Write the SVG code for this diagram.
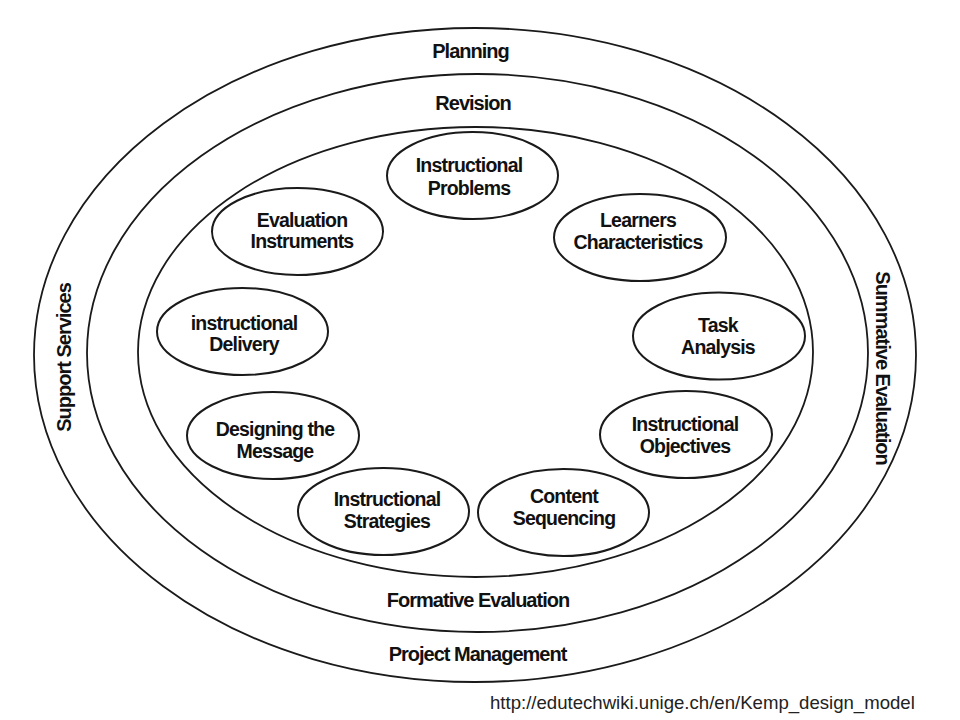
<svg xmlns="http://www.w3.org/2000/svg" width="960" height="720" viewBox="0 0 960 720">
<style>
.ring{fill:none;stroke:#1a1a1a;stroke-width:1.8}
.node ellipse{fill:none;stroke:#1a1a1a;stroke-width:2}
.nt{font-family:"Liberation Sans",Arial,sans-serif;font-weight:bold;font-size:19.5px;letter-spacing:-0.8px;text-anchor:middle;fill:#111}
.rt{font-family:"Liberation Sans",Arial,sans-serif;font-weight:bold;font-size:20px;letter-spacing:-1px;text-anchor:middle;fill:#111}
.url{font-family:"Liberation Sans",Arial,sans-serif;font-size:18.6px;fill:#222}
</style>
<rect width="960" height="720" fill="#fff"/>
<g id="rings">
  <g id="ring-outer">
    <ellipse class="ring" cx="475" cy="355" rx="441" ry="327"/>
    <text class="rt" x="470.5" y="58">Planning</text>
    <text class="rt" x="477.5" y="661">Project Management</text>
    <text class="rt" x="71" y="357.5" transform="rotate(-90 71 357.5)">Support Services</text>
    <text class="rt" x="876" y="368" transform="rotate(90 876 368)">Summative Evaluation</text>
  </g>
  <g id="ring-middle">
    <ellipse class="ring" cx="477.5" cy="353" rx="390.5" ry="279"/>
    <text class="rt" x="473" y="110">Revision</text>
    <text class="rt" x="478" y="607">Formative Evaluation</text>
  </g>
  <g id="ring-inner">
    <ellipse class="ring" cx="475.5" cy="352" rx="337.5" ry="225"/>
  </g>
</g>
<g id="connectors"/>
<g id="n-problems" class="node">
  <ellipse cx="472.5" cy="175.5" rx="85.5" ry="43.5"/>
  <text class="nt" x="469" y="172">Instructional</text>
  <text class="nt" x="469" y="195">Problems</text>
</g>
<g id="n-learners" class="node">
  <ellipse cx="640" cy="237.5" rx="86" ry="43.5"/>
  <text class="nt" x="638" y="227">Learners</text>
  <text class="nt" x="638" y="249">Characteristics</text>
</g>
<g id="n-task" class="node">
  <ellipse cx="719" cy="336" rx="86" ry="43.5"/>
  <text class="nt" x="718" y="332">Task</text>
  <text class="nt" x="718" y="354">Analysis</text>
</g>
<g id="n-objectives" class="node">
  <ellipse cx="686" cy="434.5" rx="86" ry="43.5"/>
  <text class="nt" x="685" y="431">Instructional</text>
  <text class="nt" x="685" y="453">Objectives</text>
</g>
<g id="n-content" class="node">
  <ellipse cx="563.5" cy="512.5" rx="85.5" ry="43.5"/>
  <text class="nt" x="564" y="503">Content</text>
  <text class="nt" x="564" y="525">Sequencing</text>
</g>
<g id="n-strategies" class="node">
  <ellipse cx="383.5" cy="511.5" rx="85.5" ry="43.5"/>
  <text class="nt" x="387" y="506">Instructional</text>
  <text class="nt" x="387" y="528">Strategies</text>
</g>
<g id="n-message" class="node">
  <ellipse cx="273" cy="435.5" rx="86" ry="43.5"/>
  <text class="nt" x="275" y="436">Designing the</text>
  <text class="nt" x="275" y="458">Message</text>
</g>
<g id="n-delivery" class="node">
  <ellipse cx="242.5" cy="331.5" rx="85.5" ry="43.5"/>
  <text class="nt" x="244" y="330">instructional</text>
  <text class="nt" x="244" y="351">Delivery</text>
</g>
<g id="n-evaluation" class="node">
  <ellipse cx="297.5" cy="231.5" rx="85.5" ry="43.5"/>
  <text class="nt" x="302" y="227">Evaluation</text>
  <text class="nt" x="302" y="248">Instruments</text>
</g>
<text class="url" x="490" y="709">http://edutechwiki.unige.ch/en/Kemp_design_model</text>
</svg>
